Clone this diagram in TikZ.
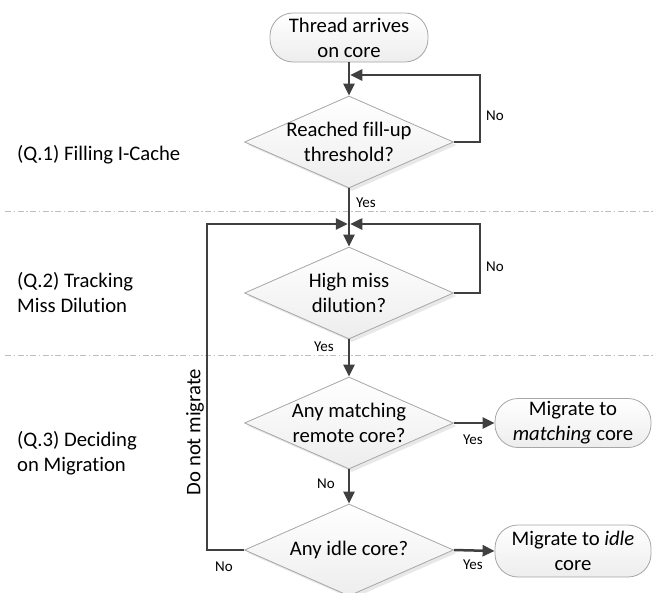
\documentclass[tikz,border=0pt]{standalone}
\usepackage{fontspec}
\setmainfont{Carlito}[Ligatures=NoCommon]
\usetikzlibrary{shapes.geometric,arrows.meta,shadows}
\definecolor{linec}{HTML}{404040}
\definecolor{shapeb}{HTML}{A6A6A6}
\definecolor{dashc}{HTML}{BFBFBF}
\newcommand\Bfnt{\fontsize{20.7}{25}\selectfont}
\newcommand\Sfnt{\fontsize{15}{18}\selectfont}
\begin{document}
\begin{tikzpicture}[x=1pt,y=-1pt,
  conn/.style={draw=linec, line width=2.5pt},
  arr/.style={conn, -{Triangle[length=12pt,width=11pt]}},
  dec/.style={diamond, draw=shapeb, line width=0.8pt, top color=white, bottom color=gray!14,
    minimum width=209pt, minimum height=92pt, inner sep=0pt,
    drop shadow={shadow xshift=3pt, shadow yshift=-3pt, fill=gray!35, opacity=0.5}},
  term/.style={rectangle, rounded corners=23pt, draw=shapeb, line width=0.8pt, top color=white, bottom color=gray!14,
    minimum height=49pt, inner sep=0pt, font=\Bfnt, align=center},
  dtext/.style={font=\Bfnt, align=center, inner sep=0pt},
  side/.style={font=\Bfnt, align=left, anchor=west, inner sep=0pt},
  lbl/.style={font=\Sfnt, inner sep=0pt},
  sep/.style={draw=dashc, line width=1pt, dash pattern=on 6pt off 2.5pt on 1.5pt off 2.5pt}
]
\useasboundingbox (0,0) rectangle (653,592);

% section separators
\coordinate (s1a) at (5,211); \coordinate (s1b) at (653,211);
\coordinate (s2a) at (5,355); \coordinate (s2b) at (653,355);
\draw[sep] (s1a) -- (s1b);
\draw[sep] (s2a) -- (s2b);

% section labels
\node[side] (q1) at (17,155) {(Q.1) Filling I-Cache};
\node[side] (q2) at (17,292) {(Q.2) Tracking\\Miss Dilution};
\node[side] (q3) at (17,453) {(Q.3) Deciding\\on Migration};

% shapes
\node[term, minimum width=158pt] (start) at (349,37.5) {Thread arrives\\on core};
\node[dec] (d1) at (349,142) {};
\node[dtext] (d1t) at (d1.center) {Reached fill-up\\threshold?};
\node[dec] (d2) at (349,293) {};
\node[dtext] (d2t) at (d2.center) {High miss\\dilution?};
\node[dec] (d3) at (349,423) {};
\node[dtext] (d3t) at (d3.center) {Any matching\\remote core?};
\node[dec] (d4) at (349,550) {};
\node[dtext] (d4t) at (d4.center) {Any idle core?};
\node[term, minimum width=156pt] (m1) at (573,423) {Migrate to\\\textit{matching} core};
\node[term, minimum width=156pt, minimum height=52pt] (m2) at (573,551) {Migrate to \textit{idle}\\core};

% junction points
\coordinate (j1) at (350.25,75);
\coordinate (j2l) at (347.75,224);
\coordinate (j2r) at (350.25,224);

% connectors
\draw[arr] (start.south) -- (d1.north);
\draw[arr] (d1.east) -- ++(26,0) |- (j1);
\draw[arr] (d1.south) -- (d2.north);
\draw[arr] (d2.east) -- ++(26,0) |- (j2r);
\draw[arr] (d4.west) -- ++(-37,0) |- (j2l);
\draw[arr] (d2.south) -- (d3.north);
\draw[arr] (d3.east) -- (m1.west);
\draw[arr] (d3.south) -- (d4.north);
\draw[arr] (d4.east) -- (m2.west);

% connector labels
\node[lbl] (no1) at (495,116) {No};
\node[lbl] (yes1) at (366,203) {Yes};
\node[lbl] (no2) at (495,267) {No};
\node[lbl] (yes2) at (324,347) {Yes};
\node[lbl] (yes3) at (473,440) {Yes};
\node[lbl] (no3) at (326,484) {No};
\node[lbl] (yes4) at (473,565) {Yes};
\node[lbl] (no4) at (224,567) {No};
\node[font=\Bfnt, rotate=90, inner sep=0pt] (dnm) at (195,432) {Do not migrate};
\end{tikzpicture}
\end{document}
